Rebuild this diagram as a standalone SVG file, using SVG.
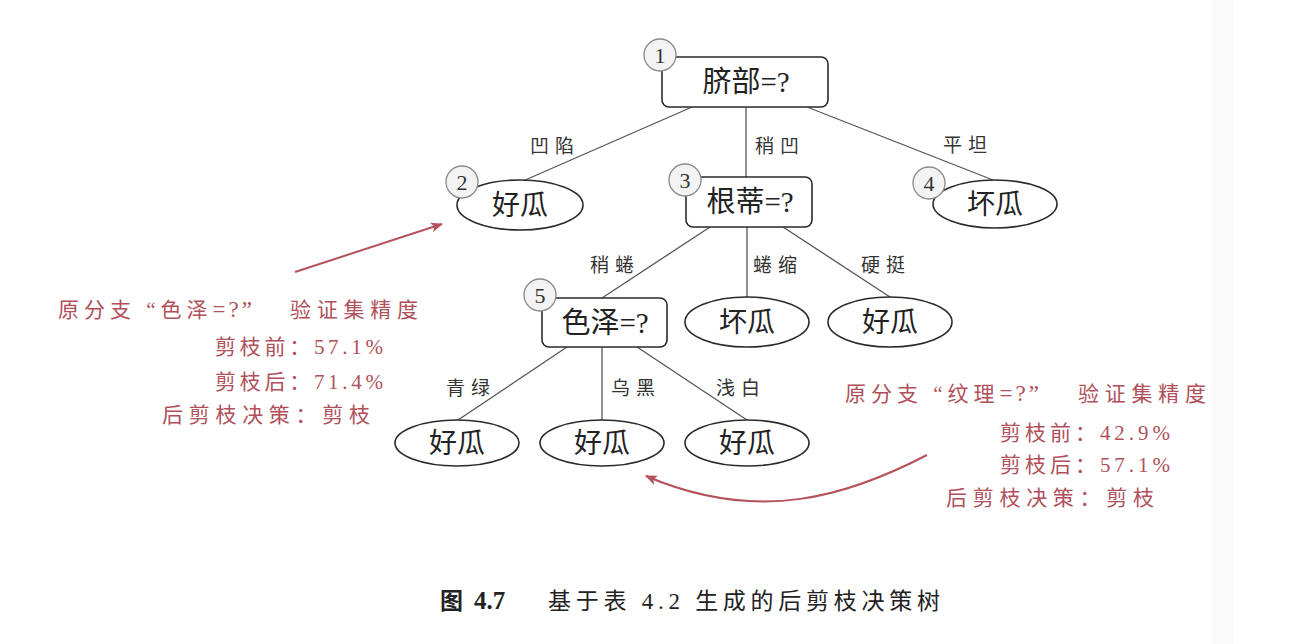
<svg xmlns="http://www.w3.org/2000/svg" width="1302" height="644" viewBox="0 0 1302 644">
<style>
.box{fill:#fff;stroke:#2a2a2a;stroke-width:1.6}
.badge{fill:#f3f3f3;stroke:#8a8a8a;stroke-width:1.3}
.ntxt{font-family:"Liberation Serif","Noto Sans CJK SC",serif;font-size:29px;fill:#222;text-anchor:middle}
.ltxt{font-family:"Liberation Serif","Noto Sans CJK SC",serif;font-size:28px;fill:#222;text-anchor:middle}
.btxt{font-family:"Liberation Serif",serif;font-size:22px;fill:#333;text-anchor:middle}
.edge{stroke:#555;stroke-width:1.3;fill:none}
.elab{font-family:"Noto Sans CJK SC",sans-serif;font-size:19px;fill:#333;text-anchor:middle;letter-spacing:6px}
.red{font-family:"Liberation Serif","Noto Sans CJK SC",serif;font-size:21px;fill:#b0505a}
.rarrow{stroke:#b4525c;stroke-width:2;fill:none}
.cap{font-family:"Liberation Serif","Noto Sans CJK SC",serif;font-size:23px;fill:#222}
</style>
<defs>
<marker id="ah" viewBox="0 0 12 10" refX="11" refY="5" markerWidth="12" markerHeight="10" markerUnits="userSpaceOnUse" orient="auto">
<path d="M0,0 L12,5 L0,10 L3,5 Z" fill="#b4525c"/>
</marker>
</defs>
<rect x="0" y="0" width="1302" height="644" fill="#fff"/>
<rect x="1212" y="0" width="22" height="644" fill="#fafafa"/>

<g id="connectors">
<line class="edge" x1="692" y1="107" x2="523" y2="181"/>
<line class="edge" x1="746" y1="107" x2="746" y2="177"/>
<line class="edge" x1="807" y1="107" x2="993" y2="180"/>
<line class="edge" x1="710" y1="227" x2="602" y2="298"/>
<line class="edge" x1="747" y1="227" x2="747" y2="297"/>
<line class="edge" x1="783" y1="227" x2="890" y2="297"/>
<line class="edge" x1="567" y1="347" x2="458" y2="420"/>
<line class="edge" x1="602" y1="347" x2="602" y2="420"/>
<line class="edge" x1="637" y1="347" x2="747" y2="420"/>
<text class="elab" x="555" y="153">凹陷</text>
<text class="elab" x="780" y="153">稍凹</text>
<text class="elab" x="968" y="152">平坦</text>
<text class="elab" x="615" y="272">稍蜷</text>
<text class="elab" x="778" y="272">蜷缩</text>
<text class="elab" x="886" y="272">硬挺</text>
<text class="elab" x="471" y="395">青绿</text>
<text class="elab" x="636" y="395">乌黑</text>
<text class="elab" x="741" y="395">浅白</text>
</g>

<g id="n1">
<rect class="box" x="662" y="57" width="166" height="50" rx="7"/>
<circle class="badge" cx="660" cy="55" r="16"/>
<text class="btxt" x="660" y="63">1</text>
<text class="ntxt" x="746" y="92">脐部=?</text>
</g>
<g id="n2">
<ellipse class="box" cx="520" cy="205" rx="63" ry="25"/>
<circle class="badge" cx="462" cy="182" r="16"/>
<text class="btxt" x="462" y="190">2</text>
<text class="ltxt" x="520" y="215">好瓜</text>
</g>
<g id="n3">
<rect class="box" x="686" y="177" width="126" height="50" rx="7"/>
<circle class="badge" cx="685" cy="180" r="16"/>
<text class="btxt" x="685" y="188">3</text>
<text class="ntxt" x="750" y="212">根蒂=?</text>
</g>
<g id="n4">
<ellipse class="box" cx="995" cy="204" rx="62" ry="24"/>
<circle class="badge" cx="929" cy="183" r="16"/>
<text class="btxt" x="929" y="191">4</text>
<text class="ltxt" x="995" y="214">坏瓜</text>
</g>
<g id="n5">
<rect class="box" x="542" y="298" width="125" height="49" rx="7"/>
<circle class="badge" cx="540" cy="295" r="16"/>
<text class="btxt" x="540" y="303">5</text>
<text class="ntxt" x="605" y="333">色泽=?</text>
</g>
<g id="n6">
<ellipse class="box" cx="747" cy="322" rx="62" ry="25"/>
<text class="ltxt" x="747" y="332">坏瓜</text>
</g>
<g id="n7">
<ellipse class="box" cx="890" cy="322" rx="62" ry="25"/>
<text class="ltxt" x="890" y="332">好瓜</text>
</g>
<g id="n8">
<ellipse class="box" cx="457" cy="443" rx="62" ry="23"/>
<text class="ltxt" x="457" y="453">好瓜</text>
</g>
<g id="n9">
<ellipse class="box" cx="602" cy="443" rx="62" ry="23"/>
<text class="ltxt" x="602" y="453">好瓜</text>
</g>
<g id="n10">
<ellipse class="box" cx="747" cy="443" rx="62" ry="23"/>
<text class="ltxt" x="747" y="453">好瓜</text>
</g>

<g id="annot-left">
<text class="red" y="317"><tspan x="58" letter-spacing="5">原分支 “色泽</tspan><tspan font-size="23" letter-spacing="3">=?”</tspan><tspan x="290" textLength="128" lengthAdjust="spacing">验证集精度</tspan></text>
<text class="red" x="215" y="354" textLength="168" lengthAdjust="spacing">剪枝前：57.1%</text>
<text class="red" x="215" y="389" textLength="168" lengthAdjust="spacing">剪枝后：71.4%</text>
<text class="red" x="162" y="422" textLength="208" lengthAdjust="spacing">后剪枝决策：剪枝</text>
<line class="rarrow" x1="295" y1="272" x2="442" y2="224" marker-end="url(#ah)"/>
</g>

<g id="annot-right">
<text class="red" y="401"><tspan x="845" letter-spacing="5">原分支 “纹理</tspan><tspan font-size="23" letter-spacing="3">=?”</tspan><tspan x="1078" textLength="128" lengthAdjust="spacing">验证集精度</tspan></text>
<text class="red" x="1000" y="440" textLength="170" lengthAdjust="spacing">剪枝前：42.9%</text>
<text class="red" x="1000" y="472" textLength="170" lengthAdjust="spacing">剪枝后：57.1%</text>
<text class="red" x="946" y="505" textLength="208" lengthAdjust="spacing">后剪枝决策：剪枝</text>
<path class="rarrow" d="M927,455 C850,495 760,525 646,476" marker-end="url(#ah)"/>
</g>

<g id="caption">
<text class="cap" y="609"><tspan x="440" font-weight="bold">图</tspan><tspan x="474" font-weight="bold" font-size="25">4.7</tspan><tspan x="548" textLength="392" lengthAdjust="spacing">基于表 4.2 生成的后剪枝决策树</tspan></text>
</g>
</svg>
